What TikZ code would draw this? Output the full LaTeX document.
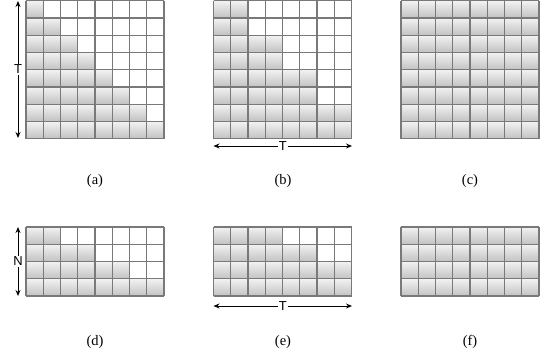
\documentclass[tikz,border=0pt]{standalone}
\usepackage{fontspec}
\setmainfont{Liberation Serif}
\newfontfamily\labfont{Liberation Sans}
\usetikzlibrary{arrows.meta}
\tikzset{
  cell/.style={top color=gray!10, bottom color=gray!48, draw=none},
  gridline/.style={draw=gray!95!black, line width=1.4pt},
  dimarrow/.style={{Stealth[length=6pt,width=5pt]}-{Stealth[length=6pt,width=5pt]}, line width=0.9pt},
  dimlabel/.style={fill=white, inner sep=1pt, font=\labfont\fontsize{13}{13}\selectfont},
  caption/.style={font=\fontsize{14.5}{14.5}\selectfont}
}
\newcommand\mygrid[4]{% left, top, counts, rows
  \foreach \n [count=\r from 0] in {#3} {
    \foreach \c in {1,...,8} {
      \ifnum\c>\n\relax\else
        \fill[cell] ({#1+(\c-1)*17.25},{-(#2+\r*17.25)}) rectangle ++(17.25,-17.25);
      \fi
    }
  }
  \foreach \i in {0,...,8} \draw[gridline] ({#1+\i*17.25},{-#2}) -- ++(0,{-#4*17.25});
  \foreach \j in {0,...,#4} \draw[gridline] (#1,{-(#2+\j*17.25)}) -- ++(138,0);
}
\begin{document}
\begin{tikzpicture}[x=1pt,y=1pt]
\useasboundingbox (0,0) rectangle (544,-356);
\mygrid{26}{0.7}{1,2,3,4,5,6,7,8}{8}
\mygrid{213.5}{0.7}{2,2,4,4,6,6,8,8}{8}
\mygrid{401}{0.7}{8,8,8,8,8,8,8,8}{8}
\mygrid{26}{227}{2,4,6,8}{4}
\mygrid{213.5}{227}{4,6,8,8}{4}
\mygrid{401}{227}{8,8,8,8}{4}

\coordinate (ta1) at (18,-1);
\coordinate (ta2) at (18,-138);
\draw[dimarrow] (ta1) -- node[dimlabel] (tlab1) {T} (ta2);
\coordinate (tb1) at (213.5,-146);
\coordinate (tb2) at (352,-146);
\draw[dimarrow] (tb1) -- node[dimlabel] (tlab2) {T} (tb2);
\coordinate (nd1) at (18,-227);
\coordinate (nd2) at (18,-296);
\draw[dimarrow] (nd1) -- node[dimlabel] (nlab) {N} (nd2);
\coordinate (te1) at (213.5,-306);
\coordinate (te2) at (352,-306);
\draw[dimarrow] (te1) -- node[dimlabel] (tlab3) {T} (te2);

\node[caption] (capa) at (95,-181) {(a)};
\node[caption] (capb) at (283,-181) {(b)};
\node[caption] (capc) at (470,-181) {(c)};
\node[caption] (capd) at (95,-342) {(d)};
\node[caption] (cape) at (283,-342) {(e)};
\node[caption] (capf) at (470,-342) {(f)};
\end{tikzpicture}
\end{document}
